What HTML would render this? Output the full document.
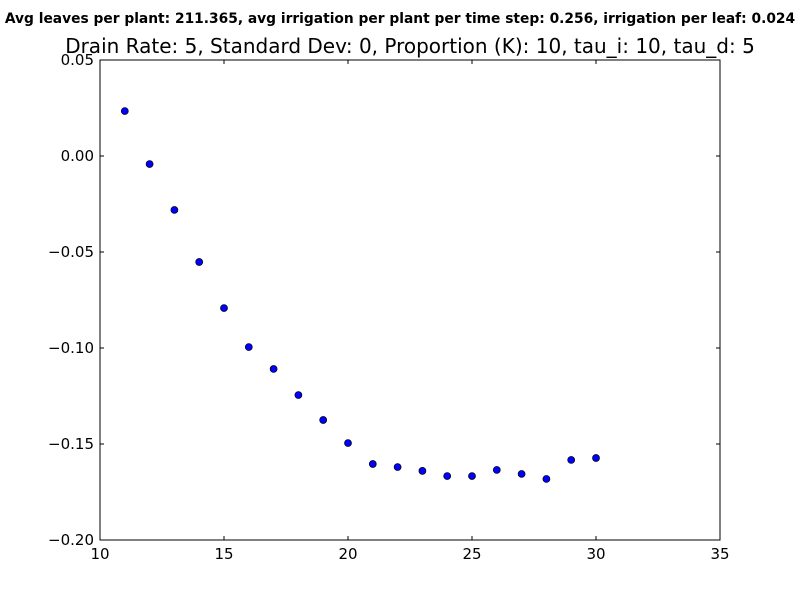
<!DOCTYPE html>
<html><head><meta charset="utf-8"><style>
body{margin:0;background:#fff;}
svg{display:block;font-family:"DejaVu Sans","Liberation Sans",sans-serif;}
</style></head><body>
<svg id="chart" width="800" height="600" xmlns="http://www.w3.org/2000/svg">
<rect width="800" height="600" fill="#fff"/>
<text x="400" y="23" text-anchor="middle" font-size="13.8" font-weight="bold">Avg leaves per plant: 211.365, avg irrigation per plant per time step: 0.256, irrigation per leaf: 0.024</text>
<text x="410" y="53" text-anchor="middle" font-size="20">Drain Rate: 5, Standard Dev: 0, Proportion (K): 10, tau_i: 10, tau_d: 5</text>
<g id="ticks"></g>
<g id="points"></g>
<rect x="100" y="60" width="620" height="480" fill="none" stroke="#000" stroke-width="1"/>
</svg>
<script>
const xs = [11,12,13,14,15,16,17,18,19,20,21,22,23,24,25,26,27,28,29,30];
const ys = [0.0234,-0.0042,-0.0281,-0.0552,-0.0792,-0.0995,-0.1109,-0.1245,-0.1375,-0.1495,-0.1604,-0.162,-0.164,-0.1667,-0.1667,-0.1635,-0.1656,-0.1682,-0.1583,-0.1573];
const xTicks = [10,15,20,25,30,35];
const yTicks = [0.05,0.00,-0.05,-0.10,-0.15,-0.20];
const yTickLabels = ["0.05","0.00","\u22120.05","\u22120.10","\u22120.15","\u22120.20"];
const X0=100,X1=720,Y0=540,Y1=60;
const xMin=10,xMax=35,yMin=-0.2,yMax=0.05;
const sx=v=>X0+(v-xMin)/(xMax-xMin)*(X1-X0);
const sy=v=>Y0-(v-yMin)/(yMax-yMin)*(Y0-Y1);
const NS="http://www.w3.org/2000/svg";
const tg=document.getElementById('ticks'), pg=document.getElementById('points');
function mk(tag,attrs,parent){const e=document.createElementNS(NS,tag);for(const k in attrs)e.setAttribute(k,attrs[k]);parent.appendChild(e);return e;}
xTicks.forEach(t=>{
  const x=sx(t);
  const l1=mk('line',{x1:x,x2:x,y1:Y0,y2:Y0-4,stroke:'#000'},tg);
  
  
  const l2=mk('line',{x1:x,x2:x,y1:Y1,y2:Y1+4,stroke:'#000'},tg);
  
  
  const tx=mk('text',{x:x,y:Y0+19,'text-anchor':'middle','font-size':'15'},tg);
  tx.textContent=String(t);
  
  
});
yTicks.forEach((t,i)=>{
  const y=sy(t);
  const l1=mk('line',{x1:X0,x2:X0+4,y1:y,y2:y,stroke:'#000'},tg);
  
  
  const l2=mk('line',{x1:X1,x2:X1-4,y1:y,y2:y,stroke:'#000'},tg);
  
  
  const tx=mk('text',{x:X0-6,y:y+5,'text-anchor':'end','font-size':'15'},tg);
  tx.textContent=yTickLabels[i];
  
  
});
xs.forEach((v,i)=>{
  const c=mk('circle',{cx:sx(v),cy:sy(ys[i]),r:3.5,fill:'#0000ff',stroke:'#000','stroke-width':'0.7'},pg);
  
  
});
</script>
</body></html>
